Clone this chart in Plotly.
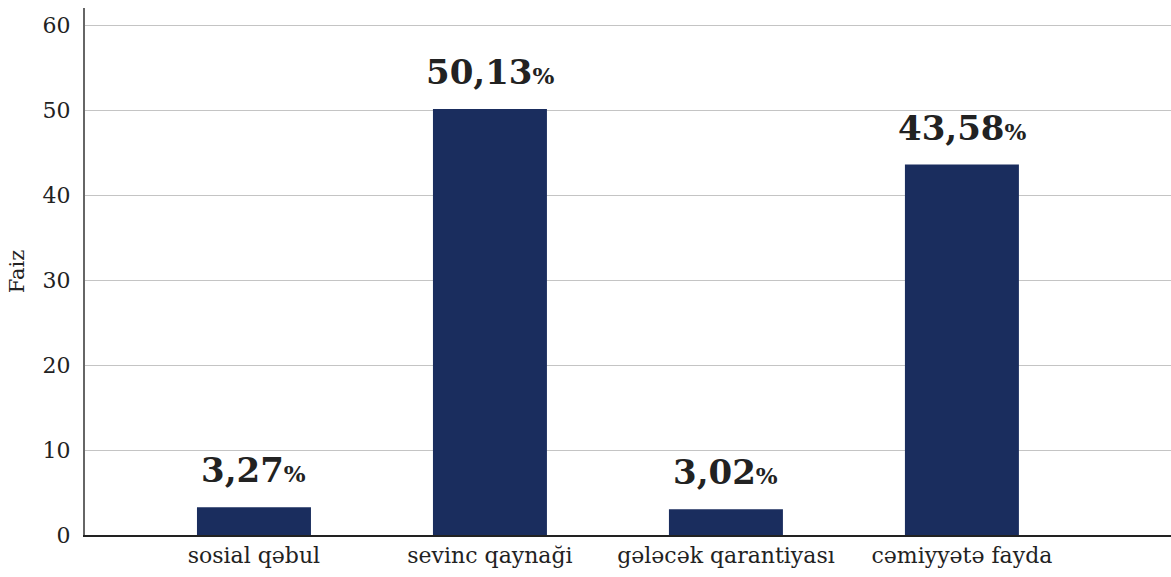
import plotly.graph_objects as go

categories = ["sosial qəbul", "sevinc qaynaği", "gələcək qarantiyası", "cəmiyyətə fayda"]
values = [3.27, 50.13, 3.02, 43.58]
labels = ["3,27", "50,13", "3,02", "43,58"]
y_ticks = [0, 10, 20, 30, 40, 50, 60]

BAR = "#1a2d5e"
TXT = "#222222"
FONT = "DejaVu Serif"

fig = go.Figure()
fig.add_trace(go.Bar(
    x=categories, y=values, marker=dict(color=BAR, line=dict(width=0)),
    width=0.483, hoverinfo="skip",
))

for c, v, l in zip(categories, values, labels):
    fig.add_annotation(
        x=c, y=v, xref="x", yref="y", yanchor="bottom", yshift=15,
        text=f"<b>{l}</b><span style='font-size:23px'><b>%</b></span>",
        showarrow=False, font=dict(family=FONT, size=34, color=TXT),
    )

fig.update_layout(
    width=1171, height=577,
    margin=dict(l=85, r=0, t=8, b=42),
    plot_bgcolor="white", paper_bgcolor="white",
    showlegend=False,
    font=dict(family=FONT, color=TXT, size=20),
    xaxis=dict(
        range=[-0.716, 3.886], showgrid=False, showline=True,
        linecolor="#222222", linewidth=2, ticks="", tickfont=dict(size=22, family=FONT, color=TXT),
    ),
    yaxis=dict(
        range=[0, 62], tickvals=y_ticks, showgrid=True, gridcolor="#c4c4c4", gridwidth=1.3,
        showline=True, linecolor="#666666", linewidth=2, ticks="", zeroline=False,
        tickfont=dict(size=22, family=FONT, color=TXT), ticklabelstandoff=8,
        title=dict(text="Faiz", font=dict(size=21, family=FONT, color=TXT), standoff=12),
    ),
)

fig.write_html("out.html", config={"displayModeBar": False},
               post_script="document.body.style.margin='0px';")
